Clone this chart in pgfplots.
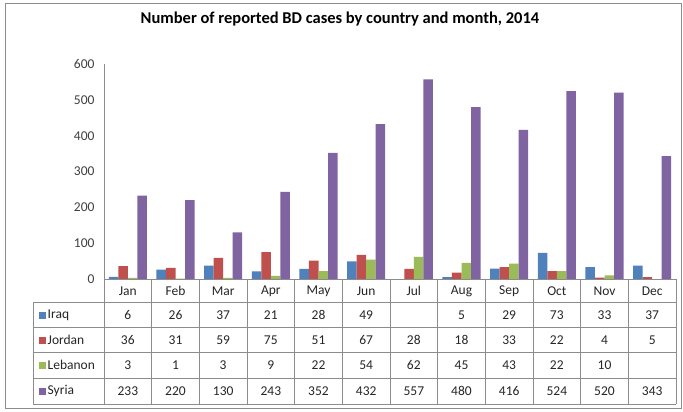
\documentclass[border=0pt]{standalone}
\usepackage{fontspec}
\setmainfont{Carlito}
\usepackage{pgfplots}
\usepackage{pgfplotstable}
\pgfplotsset{compat=1.18}
\definecolor{cIraq}{HTML}{4F81BD}
\definecolor{cJordan}{HTML}{C0504D}
\definecolor{cLebanon}{HTML}{9BBB59}
\definecolor{cSyria}{HTML}{8064A2}
\definecolor{lineg}{HTML}{8C8C8C}
\definecolor{tickg}{HTML}{404040}
\definecolor{txt}{HTML}{262626}

\pgfplotstableread{
i m iraq jordan lebanon syria
0 Jan 6 36 3 233
1 Feb 26 31 1 220
2 Mar 37 59 3 130
3 Apr 21 75 9 243
4 May 28 51 22 352
5 Jun 49 67 54 432
6 Jul nan 28 62 557
7 Aug 5 18 45 480
8 Sep 29 33 43 416
9 Oct 73 22 22 524
10 Nov 33 4 10 520
11 Dec 37 5 nan 343
}\data

\def\nanstr{nan}
\newcommand\cell[3]{%
  \pgfplotstablegetelem{#1}{#2}\of\data
  \edef\tmp{\pgfplotsretval}%
  \ifx\tmp\nanstr\else
    \node[text=txt,font=\fontsize{13.5}{16}\selectfont,inner sep=0pt] at (\cx pt,#3) {\tmp};
  \fi}

\begin{document}
\begin{tikzpicture}
\useasboundingbox (0,0) rectangle (683pt,-412pt);
\fill[white] (0,0) rectangle (683pt,-412pt);
\draw[lineg, line width=1pt] (5pt,-4pt) rectangle (681pt,-408pt);
\node[font=\fontsize{16.5}{19}\bfseries\selectfont, text=black] at (340pt,-19pt) {Number of reported BD cases by country and month, 2014};
\begin{axis}[
  at={(104pt,-279pt)}, anchor=south west,
  scale only axis, width=572pt, height=215pt,
  xmin=-0.5, xmax=11.5, ymin=0, ymax=600,
  ytick={0,100,...,600}, xtick=\empty,
  axis line style={draw=none},
  major tick length=0pt,
  /pgf/number format/assume math mode=true,
  yticklabel style={font=\fontsize{13.5}{16}\selectfont, text=tickg, xshift=-6pt},
  clip=false,
]
\addplot[ybar, bar width=0.2, bar shift=-0.3, fill=cIraq, draw=none] table[x=i,y=iraq]{\data};
\addplot[ybar, bar width=0.2, bar shift=-0.1, fill=cJordan, draw=none] table[x=i,y=jordan]{\data};
\addplot[ybar, bar width=0.2, bar shift=0.1, fill=cLebanon, draw=none] table[x=i,y=lebanon]{\data};
\addplot[ybar, bar width=0.2, bar shift=0.3, fill=cSyria, draw=none] table[x=i,y=syria]{\data};
\end{axis}
% table grid
\begin{scope}[lineg, line width=0.9pt]
\draw (104pt,-64pt) -- (104pt,-404pt);
\draw (104pt,-279pt) -- (676pt,-279pt);
\foreach \y in {302,327,352,378,404} \draw (33pt,-\y pt) -- (676pt,-\y pt);
\draw (33pt,-302pt) -- (33pt,-404pt);
\foreach \k in {1,...,12} {
  \pgfmathsetmacro\vx{104+\k*47.6667}
  \draw (\vx pt,-279pt) -- (\vx pt,-404pt);
}
\end{scope}
% legend column
\foreach \y/\c/\n in {315/cIraq/Iraq,340/cJordan/Jordan,365/cLebanon/Lebanon,391/cSyria/Syria} {
  \fill[\c] (38.5pt,-\y pt+3.5pt) rectangle (45.5pt,-\y pt-3.5pt);
  \node[anchor=west,text=txt,font=\fontsize{13.5}{16}\selectfont,inner sep=0pt] at (47.5pt,-\y pt) {\n};
}
% cells
\foreach \r in {0,...,11} {
  \pgfmathsetmacro\cx{104+(\r+0.5)*47.6667}
  \cell{\r}{m}{-291pt}
  \cell{\r}{iraq}{-315pt}
  \cell{\r}{jordan}{-340pt}
  \cell{\r}{lebanon}{-365pt}
  \cell{\r}{syria}{-391pt}
}
\end{tikzpicture}
\end{document}
